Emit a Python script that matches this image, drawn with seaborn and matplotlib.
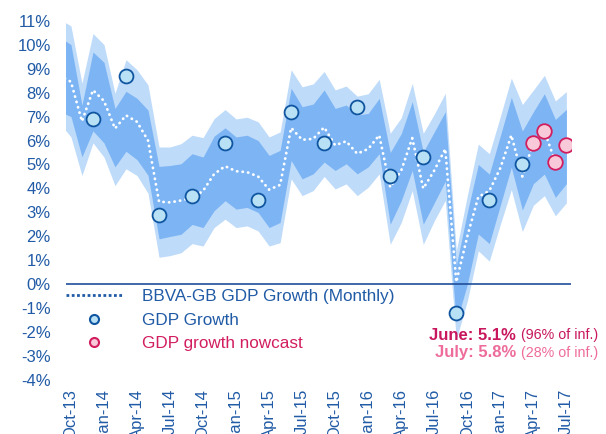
import numpy as np
import pandas as pd
import matplotlib
matplotlib.use("Agg")
import matplotlib.pyplot as plt
from matplotlib.lines import Line2D
import seaborn as sns

# month positions: -1 = Sep-13 ... 45 = Jul-17
month_pos = list(range(-1, 46))

# BBVA-GB monthly estimate (white dotted line), ends Jun-17
monthly_est = [8.7, 8.45, 6.8, 8.1, 7.65, 6.5, 7.05, 6.78, 6.0, 3.45,
               3.42, 3.5, 3.6, 3.9, 4.6, 4.93, 4.72, 4.68, 4.5, 3.95,
               4.15, 6.53, 6.03, 6.07, 6.55, 5.8, 5.97, 5.45, 5.65, 6.22,
               4.05, 4.75, 6.1, 4.0, 4.75, 5.65, 0.1, 2.0, 3.65, 3.9,
               4.85, 6.22, 4.5, 5.9, 6.4, 5.1, np.nan]

# confidence bands
outer_hi = [11.05, 10.78, 8.39, 10.46, 10.0, 7.97, 9.37, 8.95, 8.32, 5.73,
            5.73, 5.87, 6.22, 6.12, 6.91, 7.29, 6.9, 6.97, 6.78, 6.15,
            6.36, 8.95, 8.24, 8.36, 8.88, 8.11, 8.27, 7.85, 7.95, 8.55,
            6.3, 6.95, 8.38, 6.3, 7.1, 7.97, 1.4, 3.7, 5.85, 5.45,
            7.0, 8.6, 7.5, 8.1, 8.72, 7.65, 8.04]
inner_hi = [10.3, 10.0, 7.48, 9.69, 9.26, 7.34, 8.05, 7.76, 7.27, 4.92,
            4.96, 5.03, 5.45, 5.31, 6.18, 6.53, 6.15, 6.22, 6.0, 5.38,
            5.59, 8.18, 7.41, 7.52, 8.11, 7.34, 7.48, 7.06, 7.13, 7.76,
            5.5, 6.29, 7.62, 5.52, 6.36, 7.2, 0.8, 3.0, 5.0, 4.6,
            6.2, 7.8, 6.4, 7.2, 7.95, 6.88, 7.3]
inner_lo = [7.2, 7.0, 5.32, 6.4, 5.9, 4.9, 5.55, 5.2, 4.55, 1.9,
            2.0, 2.09, 2.5, 2.37, 3.07, 3.49, 3.14, 3.21, 3.0, 2.37,
            2.58, 5.17, 4.4, 4.61, 5.1, 4.75, 5.03, 4.61, 4.9, 5.45,
            2.51, 3.49, 4.75, 2.51, 3.4, 4.3, -1.6, 0.0, 2.1, 1.7,
            3.3, 4.89, 3.1, 4.2, 4.6, 3.63, 4.2]
outer_lo = [6.7, 6.15, 4.54, 5.9, 5.31, 4.12, 4.82, 4.54, 3.8, 1.13,
            1.2, 1.32, 1.7, 1.6, 2.37, 2.72, 2.37, 2.44, 2.23, 1.6,
            1.74, 4.4, 3.7, 3.91, 4.5, 3.98, 4.19, 3.7, 4.05, 4.61,
            1.67, 2.58, 3.91, 1.67, 2.65, 3.5, -2.3, -0.7, 1.4, 0.97,
            2.5, 3.95, 2.2, 3.3, 3.7, 2.86, 3.4]

# quarterly GDP growth (Dec-13 ... Mar-17)
gdp_pos = [2, 5, 8, 11, 14, 17, 20, 23, 26, 29, 32, 35, 38, 41]
gdp_vals = [6.9, 8.7, 2.9, 3.7, 5.9, 3.5, 7.2, 5.9, 7.4, 4.5, 5.3, -1.2, 3.5, 5.0]

# nowcast Apr-17 ... Jul-17
now_pos = [42, 43, 44, 45]
now_vals = [5.9, 6.4, 5.1, 5.8]

tick_pos = list(range(0, 46, 3))
tick_labels = ["Oct-13", "Jan-14", "Apr-14", "Jul-14", "Oct-14", "Jan-15", "Apr-15", "Jul-15",
               "Oct-15", "Jan-16", "Apr-16", "Jul-16", "Oct-16", "Jan-17", "Apr-17", "Jul-17"]

monthly = pd.DataFrame({"pos": month_pos, "est": monthly_est,
                        "outer_hi": outer_hi, "inner_hi": inner_hi,
                        "inner_lo": inner_lo, "outer_lo": outer_lo})

blue_txt = "#215BA6"
light_band = "#BFDBFA"
dark_band = "#7DB5F4"
circ_face = "#B9E1F5"
circ_edge = "#0F55A0"
pink_face = "#F8C9D8"
pink_edge = "#D21E5F"

sns.set_style("white")
plt.rcParams['font.family'] = ['Liberation Sans', 'DejaVu Sans']

fig = plt.figure(figsize=(6.06, 4.34), dpi=100)
ax = fig.add_axes([0.1089, 0.1237, 0.833, 0.8288])

ax.fill_between(monthly["pos"], monthly["outer_lo"], monthly["outer_hi"], color=light_band, lw=0, zorder=1)
ax.fill_between(monthly["pos"], monthly["inner_lo"], monthly["inner_hi"], color=dark_band, lw=0, zorder=2)
ax.axhline(0, color="#1F4E99", lw=1.2, zorder=3)

sns.lineplot(data=monthly.dropna(), x="pos", y="est", ax=ax, color="white", lw=2.0,
             linestyle=(0, (0.1, 1.9)), dash_capstyle="round", estimator=None, sort=False, zorder=4)
sns.scatterplot(x=gdp_pos, y=gdp_vals, ax=ax, s=100, color=circ_face, edgecolor=circ_edge,
                linewidth=1.3, zorder=5)
sns.scatterplot(x=now_pos, y=now_vals, ax=ax, s=110, color=pink_face, edgecolor=pink_edge,
                linewidth=1.3, zorder=5)

ax.set_xlim(-0.45, 45.4)
ax.set_ylim(-4, 11)
ax.set_yticks(range(-4, 12))
ax.set_yticklabels([f"{v}%" for v in range(-4, 12)])
ax.set_xticks(tick_pos)
ax.set_xticklabels(tick_labels, rotation=90)
ax.tick_params(axis="both", length=0, labelsize=12, colors=blue_txt)
ax.tick_params(axis="y", pad=11)
ax.tick_params(axis="x", pad=6)
ax.set_xlabel("")
ax.set_ylabel("")
for s in ax.spines.values():
    s.set_visible(False)
ax.grid(False)

handles = [
    Line2D([], [], color=blue_txt, lw=2, linestyle=(0, (1, 0.9))),
    Line2D([], [], ls="", marker="o", ms=6.5, mfc=circ_face, mec=circ_edge, mew=1.5),
    Line2D([], [], ls="", marker="o", ms=6.5, mfc=pink_face, mec=pink_edge, mew=1.5),
]
labels = ["BBVA-GB GDP Growth (Monthly)", "GDP Growth", "GDP growth nowcast"]
leg = fig.legend(handles, labels, loc="upper left", bbox_to_anchor=(66 / 606, 1 - 289 / 434),
                 frameon=False, fontsize=12.3, handlelength=3.3, handletextpad=1.15,
                 labelspacing=0.5, borderpad=0, borderaxespad=0)
for t, c in zip(leg.get_texts(), [blue_txt, blue_txt, pink_edge]):
    t.set_color(c)

# nowcast notes
fig.text(516 / 606, 1 - 335 / 434, "June: 5.1%", ha="right", va="center", fontsize=12,
         fontweight="bold", color="#C8175D")
fig.text(521 / 606, 1 - 335 / 434, "(96% of inf.)", ha="left", va="center", fontsize=10.3,
         color="#C8175D")
fig.text(516 / 606, 1 - 353 / 434, "July: 5.8%", ha="right", va="center", fontsize=12,
         fontweight="bold", color="#EE6C9B")
fig.text(521 / 606, 1 - 353 / 434, "(28% of inf.)", ha="left", va="center", fontsize=10.3,
         color="#EE6C9B")

fig.savefig("out.png", dpi=100)
